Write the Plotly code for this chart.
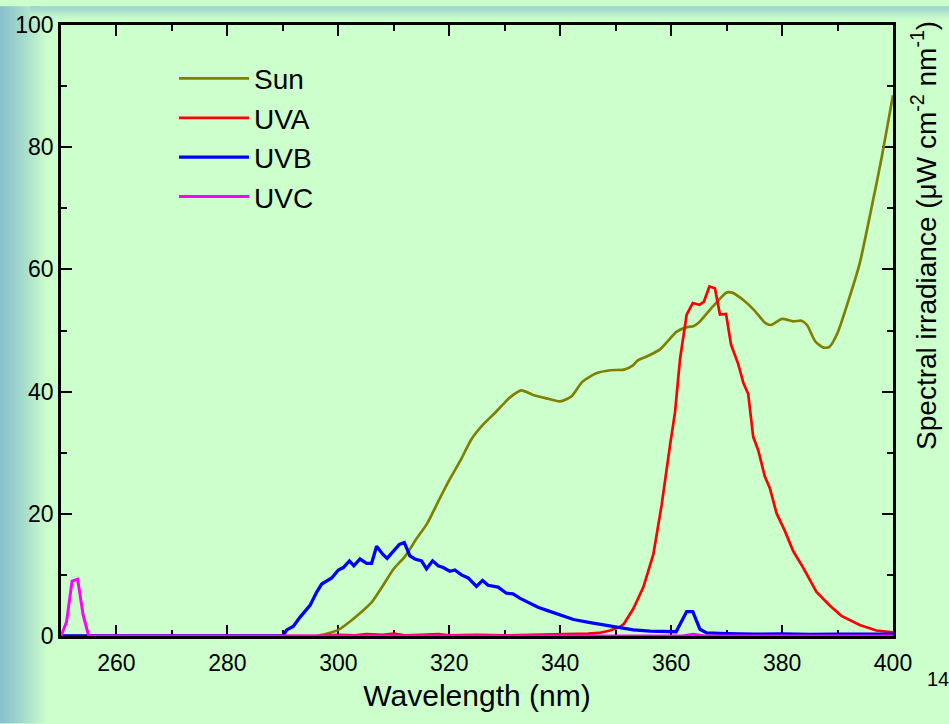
import plotly.graph_objects as go

# ---------------- data ----------------
sun_x = [250, 290, 296, 298, 300, 302, 304, 306, 308, 310, 312, 314, 316, 318, 320,
         322, 324, 326, 328, 330, 331, 333, 335, 337.5, 340, 342, 344, 346.5, 349,
         351.5, 353, 354, 355.5, 358, 361, 363, 364, 365, 367.5, 370, 371, 373, 375,
         377, 378, 380, 382, 383.5, 384.5, 386, 387.5, 388.5, 390, 392, 394, 396, 398, 400]
sun_y = [0, 0, 0, 0.4, 1.0, 2.3, 3.8, 5.5, 8.2, 11.0, 13.0, 15.8, 18.4, 22.0, 25.5,
         28.7, 32.2, 34.5, 36.3, 38.2, 39.1, 40.2, 39.5, 38.9, 38.4, 39.2, 41.6, 43.0, 43.5,
         43.6, 44.2, 45.1, 45.7, 46.9, 49.8, 50.6, 50.7, 51.3, 53.9, 56.2, 56.2, 55.0, 53.3,
         51.2, 50.9, 51.9, 51.5, 51.6, 50.9, 48.2, 47.2, 47.3, 49.6, 55.0, 61.0, 69.5, 78.5, 88.5]

uva_x = [250, 296, 300, 303, 305, 308, 310, 312, 315, 318, 320, 325, 330, 335, 340, 343,
         345, 347, 349, 350.8, 351.5, 353.2, 355, 356.8, 358.3, 359.8, 360.7, 361.6, 362.8,
         363.9, 365.1, 365.9, 366.9, 367.9, 368.8, 369.9, 370.8, 372.1, 373, 373.9, 374.8,
         375.7, 376.9, 377.8, 379, 380.5, 382, 383.8, 386.2, 388.6, 390.7, 394, 397, 400]
uva_y = [0, 0, 0.2, 0.1, 0.3, 0.2, 0.4, 0.1, 0.2, 0.3, 0.1, 0.2, 0.1, 0.2, 0.2, 0.3,
         0.4, 0.5, 0.9, 1.5, 2.0, 4.5, 8.0, 13.4, 21.5, 31.2, 36.6, 45.3, 52.6,
         54.5, 54.2, 54.7, 57.2, 56.9, 52.6, 52.7, 47.7, 44.5, 41.5, 39.6, 32.6,
         30.4, 26.1, 24.2, 20.1, 17.2, 13.9, 11.2, 7.2, 5.0, 3.3, 1.8, 0.9, 0.6]

uvb_x = [250, 290, 290.7, 291.9, 293.1, 294.9, 296.1, 297, 298.8, 300, 300.9, 302, 302.8,
         303.9, 305.1, 306, 306.9, 308, 308.8, 309.9, 311, 311.9, 312.9, 313.8, 315, 315.9,
         317, 318, 318.9, 320.1, 321, 322.2, 323.4, 324.9, 326, 327, 328.8, 330.3, 331.5,
         332.7, 334.5, 336, 337.6, 339.4, 342.4, 345.4, 348.4, 353.2, 356.2, 359.8, 360.9,
         362.8, 363.9, 365.2, 366.4, 370, 375, 380, 385, 390, 395, 400]
uvb_y = [0, 0, 1.0, 1.6, 3.1, 5.0, 7.2, 8.5, 9.5, 10.8, 11.2, 12.3, 11.5,
         12.6, 11.9, 11.9, 14.7, 13.4, 12.7, 13.9, 15.0, 15.3, 13.1, 12.6, 12.3, 11.0,
         12.3, 11.5, 11.2, 10.6, 10.8, 10.0, 9.5, 8.1, 9.1, 8.3, 8.0, 7.0, 6.9,
         6.2, 5.3, 4.7, 4.2, 3.6, 2.7, 2.2, 1.7, 1.0, 0.8, 0.7, 0.7,
         4.0, 4.0, 1.1, 0.5, 0.4, 0.3, 0.35, 0.25, 0.3, 0.3, 0.3]

uvc_x = [250, 251, 252, 253, 254, 255, 362, 364, 366, 400]
uvc_y = [0, 2.3, 9.0, 9.3, 3.4, 0, 0, 0.3, 0, 0]

series_names = ["Sun", "UVA", "UVB", "UVC"]
x_ticks = [260, 280, 300, 320, 340, 360, 380, 400]
y_ticks = [0, 20, 40, 60, 80, 100]

# ---------------- figure ----------------
W, H = 949, 724
L, R, T, B = 61, 56, 19, 88
FONT = "Arial, 'Liberation Sans', sans-serif"
GREEN = "#ccffcc"

fig = go.Figure()
styles = [("#808000", 2.7, "spline"), ("#ff0000", 2.7, "linear"),
          ("#0000ff", 3.3, "linear"), ("#ff00ff", 3.0, "linear")]
for name, xs, ys, (col, w, shape) in zip(series_names, [sun_x, uva_x, uvb_x, uvc_x],
                                         [sun_y, uva_y, uvb_y, uvc_y], styles):
    line = dict(color=col, width=w, shape=shape)
    if shape == "spline":
        line["smoothing"] = 0.6
    fig.add_trace(go.Scatter(x=xs, y=ys, mode="lines", name=name, line=line))

pw, ph = W - L - R, H - T - B


def px2paper_x(px):
    return (px - L) / pw


def px2paper_y(py):
    return (H - B - py) / ph


def mix(c1, c2, t):
    return "rgb(%d,%d,%d)" % tuple(round(a + (b - a) * t) for a, b in zip(c1, c2))


shapes = []
# left gradient (slide background)
left_c, green_c = (138, 194, 204), (204, 255, 204)
n = 24
for i in range(n):
    x0, x1 = i * 48 / n, (i + 1) * 48 / n + 0.5
    t = (i / (n - 1)) ** 1.2
    shapes.append(dict(type="rect", xref="paper", yref="paper", layer="below",
                       x0=px2paper_x(x0), x1=px2paper_x(x1), y0=px2paper_y(H), y1=px2paper_y(0),
                       line=dict(width=0), fillcolor=mix(left_c, green_c, t)))
# top gradient
top_c = (156, 210, 206)
m = 12
for i in range(m):
    y0, y1 = i * 14 / m, (i + 1) * 14 / m + 0.5
    t = i / (m - 1)
    shapes.append(dict(type="rect", xref="paper", yref="paper", layer="below",
                       x0=px2paper_x(30), x1=px2paper_x(W), y0=px2paper_y(y1), y1=px2paper_y(y0),
                       line=dict(width=0), fillcolor=mix(top_c, green_c, t)))

axis_common = dict(showline=True, linecolor="black", linewidth=2.5, mirror="allticks",
                   ticks="inside", ticklen=11, tickwidth=2, tickcolor="black",
                   showgrid=False, zeroline=False, layer="below traces",
                   tickfont=dict(family=FONT, size=23, color="black"))

fig.update_layout(
    width=W, height=H,
    margin=dict(l=L, r=R, t=T, b=B, pad=0),
    paper_bgcolor=GREEN, plot_bgcolor=GREEN,
    font=dict(family=FONT, color="black"),
    shapes=shapes,
    showlegend=True,
    legend=dict(x=px2paper_x(174), y=px2paper_y(48), xanchor="left", yanchor="top",
                bgcolor="rgba(0,0,0,0)", borderwidth=0,
                font=dict(family=FONT, size=28, color="black"), itemwidth=70),
    xaxis=dict(range=[250, 400], tickvals=x_ticks, ticktext=[str(v) for v in x_ticks],
               ticklabelstandoff=5,
               minor=dict(ticks="inside", ticklen=6, tickwidth=2, tickcolor="black", dtick=10,
                          tick0=250),
               title=dict(text="Wavelength (nm)", font=dict(family=FONT, size=30, color="black"),
                          standoff=10),
               **axis_common),
    yaxis=dict(range=[0, 100], tickvals=y_ticks, ticktext=[str(v) for v in y_ticks],
               minor=dict(ticks="inside", ticklen=6, tickwidth=2, tickcolor="black", dtick=10,
                          tick0=0),
               **axis_common),
    annotations=[
        dict(text="Spectral irradiance (μW cm<sup>-2</sup> nm<sup>-1</sup>)",
             xref="paper", yref="paper", x=px2paper_x(924), y=px2paper_y(232),
             xanchor="center", yanchor="middle", textangle=-90, showarrow=False,
             font=dict(family=FONT, size=28, color="black")),
        dict(text="14", xref="paper", yref="paper", x=px2paper_x(925), y=px2paper_y(679),
             xanchor="left", yanchor="middle", showarrow=False,
             font=dict(family=FONT, size=20, color="black")),
    ],
)

fig.write_html("out.html")
